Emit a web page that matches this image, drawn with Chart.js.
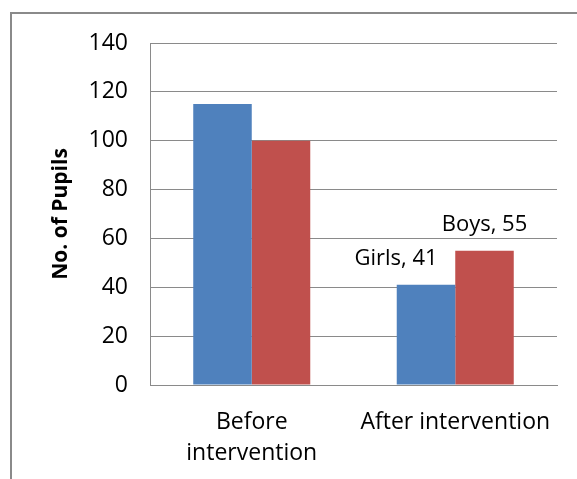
<!DOCTYPE html>
<html>
<head>
<meta charset="utf-8">
<script src="https://cdn.jsdelivr.net/npm/chart.js@4"></script>
<style>
  html, body { margin: 0; padding: 0; background: #fff; }
  #wrap { width: 577px; height: 479px; }
</style>
</head>
<body>
<div id="wrap"><canvas id="grafico" width="577" height="479"></canvas></div>
<script>
let ctx = document.getElementById('grafico')

// dados
const categorias = [['Before', 'intervention'], 'After intervention']
const girls = [115, 41]
const boys = [100, 55]
const series = ['Girls', 'Boys']
const tickMax = 140
const tickStep = 20

Chart.defaults.font.family = "'Open Sans', sans-serif"
Chart.defaults.color = '#000'

// rótulos de dados só na segunda categoria (como no original)
const rotulos = {
  id: 'rotulos',
  afterDatasetsDraw(chart) {
    const c = chart.ctx
    const deslocX = [-30, 0]
    c.save()
    c.font = "22px 'Open Sans', sans-serif"
    c.fillStyle = '#000'
    c.textAlign = 'center'
    c.textBaseline = 'middle'
    chart.data.datasets.forEach((ds, i) => {
      const bar = chart.getDatasetMeta(i).data[1]
      c.fillText(series[i] + ', ' + ds.data[1], bar.x + deslocX[i], bar.y - 26)
    })
    c.restore()
  }
}

// moldura cinza do gráfico
const moldura = {
  id: 'moldura',
  beforeDraw(chart) {
    const c = chart.ctx
    c.save()
    c.strokeStyle = '#8a8a8a'
    c.lineWidth = 2
    c.strokeRect(11, 13, 700, 600)
    c.restore()
  }
}

const data = {
  labels: categorias,
  datasets: [
    { label: series[0], data: girls, backgroundColor: '#4F81BD' },
    { label: series[1], data: boys, backgroundColor: '#C0504D' }
  ]
}

const config = {
  type: 'bar',
  data,
  plugins: [moldura, rotulos],
  options: {
    responsive: false,
    animation: false,
    layout: { padding: { left: 0, top: 43, right: 20, bottom: 0 } },
    datasets: { bar: { barPercentage: 1, categoryPercentage: 0.575 } },
    plugins: { legend: { display: false }, tooltip: { enabled: false } },
    scales: {
      x: {
        grid: { display: false },
        border: { display: true, color: '#8a8a8a' },
        ticks: { font: { size: 23, lineHeight: 1.35 }, padding: 14, maxRotation: 0 },
        afterFit(s) { s.height = 94 }
      },
      y: {
        min: 0,
        max: tickMax,
        ticks: { stepSize: tickStep, font: { size: 23 }, padding: 22 },
        grid: { color: '#8a8a8a', drawTicks: false },
        border: { display: true, color: '#8a8a8a' },
        title: {
          display: true,
          text: 'No. of Pupils',
          font: { size: 21, weight: 'bold' },
          padding: { top: 48, bottom: 0 }
        },
        afterFit(s) { s.width = 150 }
      }
    }
  }
}

const graph = new Chart(ctx, config)
</script>
</body>
</html>
